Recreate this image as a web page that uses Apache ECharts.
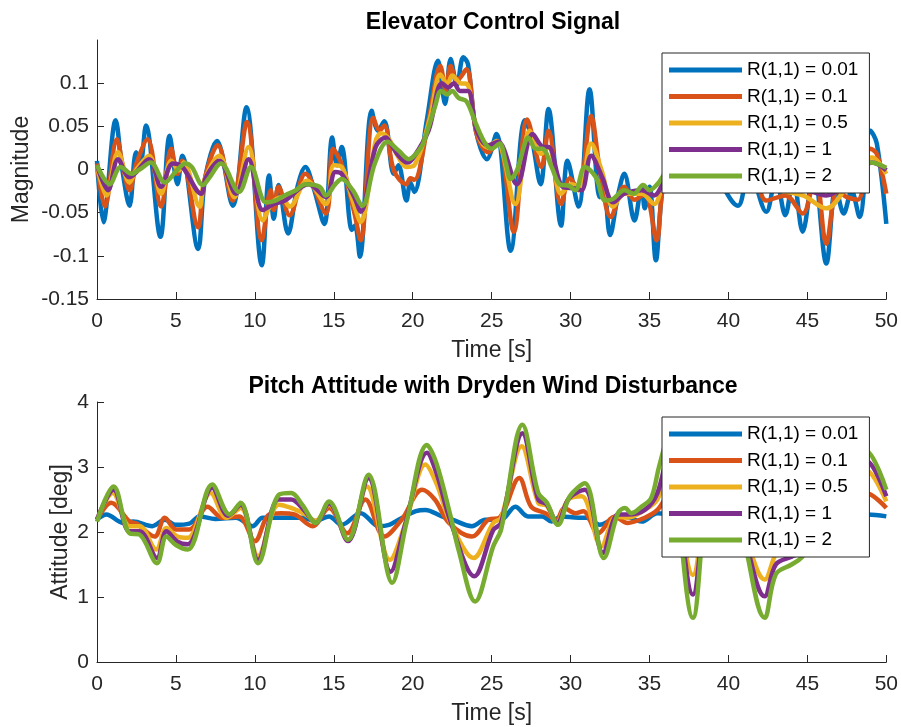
<!DOCTYPE html>
<html>
<head>
<meta charset="utf-8">
<script src="https://cdn.jsdelivr.net/npm/echarts@6/dist/echarts.min.js"></script>
<style>
  html, body { margin: 0; padding: 0; background: #fff; }
  #chart { width: 901px; height: 727px; }
</style>
</head>
<body>
<div id="chart"></div>
<script>
// legend names, shared by both subplots
var seriesNames = ['R(1,1) = 0.01', 'R(1,1) = 0.1', 'R(1,1) = 0.5', 'R(1,1) = 1', 'R(1,1) = 2'];
var seriesColors = ['#0072BD', '#D95319', '#EDB120', '#7E2F8E', '#77AC30'];

var magTicks = [-0.15, -0.1, -0.05, 0, 0.05, 0.1];

// elevator control signal, [time s, magnitude]
var elevR001 = [[0,0.010],[0.4,-0.061],[1.18,0.057],[1.6,0.0],[2.06,-0.042],[2.48,0.020],[2.75,0.008],[3.1,0.051],
  [4.02,-0.078],[4.6,0.039],[5.1,-0.017],[5.4,0.016],[6.4,-0.092],[6.85,-0.010],[7.6,0.033],[8.6,-0.042],
  [9.47,0.072],[10.44,-0.111],[10.9,-0.007],[11.2,-0.057],[11.5,-0.018],[12.1,-0.074],[12.7,-0.020],[13.2,0.003],
  [13.7,-0.020],[14.4,-0.063],[14.9,0.037],[15.2,0.005],[15.5,0.026],[16.15,-0.070],[16.35,-0.065],[16.65,-0.101],
  [17.4,0.068],[17.8,0.045],[18.2,0.056],[18.8,-0.005],[19.1,0.005],[19.6,-0.036],[19.85,-0.015],[20.1,-0.026],
  [20.9,0.058],[21.6,0.126],[22.05,0.076],[22.4,0.128],[22.8,0.098],[23.2,0.130],[23.5,0.122],[24.0,0.045],
  [24.7,0.012],[25.3,0.041],[26.2,-0.094],[27.1,0.057],[27.5,0.040],[28.1,-0.017],[28.6,0.070],[29.4,-0.065],
  [29.8,0.010],[30.5,-0.043],[31.2,0.093],[31.85,-0.032],[32.1,-0.020],[32.5,-0.076],[33.0,-0.030],[33.4,-0.005],
  [34.05,-0.059],[34.5,-0.020],[34.7,-0.045],[35.0,-0.020],[35.4,-0.105],[35.85,-0.020],[36.5,0.010],[37.2,-0.010],
  [38.0,0.020],[39.0,0.000],[40.6,-0.042],[41.3,0.000],[42.4,-0.049],[43.0,-0.010],[43.6,-0.053],[44.1,-0.010],
  [44.7,-0.072],[45.4,0.000],[46.2,-0.109],[46.8,-0.020],[47.3,-0.051],[47.8,-0.025],[48.3,-0.055],[49.0,0.045],
  [49.4,0.030],[50,-0.063]];
var elevR01 = [[0,0.007],[0.5,-0.043],[1.26,0.035],[1.65,0.003],[2.06,-0.024],[2.5,0.007],[3.2,0.035],[4.06,-0.043],
  [4.7,0.024],[5.1,-0.005],[5.4,0.010],[6.4,-0.067],[6.8,-0.013],[7.65,0.028],[8.6,-0.036],[9.5,0.055],
  [10.44,-0.082],[11.0,-0.024],[11.2,-0.047],[11.5,-0.020],[12.2,-0.053],[13.2,-0.005],[14.5,-0.051],[14.95,0.024],
  [15.5,0.006],[16.3,-0.050],[16.7,-0.082],[17.5,0.060],[17.9,0.045],[18.2,0.051],[18.8,-0.001],[19.6,-0.017],
  [19.85,-0.010],[20.1,-0.012],[21.0,0.056],[21.75,0.120],[22.1,0.091],[22.4,0.120],[22.8,0.103],[23.4,0.116],
  [24.05,0.041],[24.8,0.020],[25.4,0.033],[26.4,-0.072],[27.25,0.058],[28.15,0.003],[28.6,0.045],[29.4,-0.040],
  [29.95,-0.010],[30.5,-0.024],[31.3,0.062],[31.85,0.000],[32.55,-0.055],[33.4,-0.020],[34.05,-0.035],[34.7,-0.028],
  [35.45,-0.082],[35.85,-0.020],[36.5,0.008],[37.5,-0.005],[38.5,0.012],[40.6,-0.025],[41.5,0.000],[42.4,-0.036],
  [43.6,-0.030],[44.7,-0.051],[45.5,-0.005],[46.2,-0.086],[46.9,-0.025],[47.5,-0.032],[48.2,-0.035],[49.0,0.024],
  [49.4,0.018],[50,-0.028]];
var elevR05 = [[0,0.005],[0.6,-0.030],[1.33,0.020],[2.06,-0.015],[2.5,0.000],[3.3,0.016],[4.06,-0.028],[4.7,0.010],
  [5.2,-0.001],[5.5,0.008],[6.5,-0.043],[6.8,-0.013],[7.75,0.016],[8.7,-0.032],[9.6,0.026],[10.5,-0.059],
  [11.1,-0.038],[11.7,-0.032],[12.2,-0.043],[13.3,-0.013],[14.5,-0.040],[15.0,0.005],[15.5,0.003],[16.2,-0.036],
  [16.7,-0.061],[17.65,0.033],[18.0,0.042],[18.5,0.035],[19.1,0.014],[19.6,0.003],[20.1,0.005],[21.1,0.060],
  [21.75,0.110],[22.2,0.099],[22.5,0.109],[23.0,0.100],[23.45,0.099],[24.05,0.045],[24.7,0.026],[25.3,0.033],
  [26.5,-0.040],[27.4,0.045],[28.15,0.018],[28.6,0.026],[29.4,-0.028],[30.05,-0.017],[30.6,-0.020],[31.3,0.030],
  [31.95,0.000],[32.7,-0.043],[33.4,-0.028],[34.5,-0.028],[35.3,-0.040],[35.85,-0.017],[36.5,0.006],[38.0,0.005],
  [40.6,-0.015],[42.4,-0.022],[44.7,-0.030],[46.2,-0.045],[47.5,-0.020],[49.1,0.014],[50,-0.005]];
var elevR1 = [[0,0.005],[0.7,-0.024],[1.33,0.012],[2.06,-0.009],[3.3,0.012],[4.06,-0.020],[4.8,0.007],[5.4,0.003],
  [6.6,-0.028],[6.9,-0.009],[7.75,0.010],[8.8,-0.028],[9.6,0.012],[10.5,-0.047],[11.2,-0.040],[11.9,-0.036],
  [13.4,-0.017],[14.5,-0.032],[15.1,-0.003],[15.5,-0.005],[16.3,-0.032],[16.7,-0.049],[17.65,0.026],[18.3,0.037],
  [18.6,0.030],[19.1,0.016],[19.65,0.008],[20.05,0.014],[21.0,0.045],[21.85,0.100],[22.25,0.095],[22.6,0.100],
  [23.0,0.091],[23.5,0.091],[24.05,0.045],[24.8,0.028],[25.4,0.032],[26.6,-0.017],[27.6,0.041],[28.3,0.026],
  [28.6,0.026],[29.5,-0.020],[30.3,-0.022],[30.7,-0.024],[31.3,0.016],[32.0,-0.009],[32.7,-0.038],[33.4,-0.028],
  [34.5,-0.024],[35.3,-0.030],[35.8,-0.018],[36.5,0.005],[38.0,0.003],[40.6,-0.012],[42.4,-0.016],[44.7,-0.022],
  [46.2,-0.030],[47.5,-0.015],[49.1,0.008],[50,-0.001]];
var elevR2 = [[0,0.005],[0.8,-0.017],[1.5,0.003],[2.2,-0.005],[2.7,0.000],[3.4,0.008],[4.3,-0.015],[5.1,0.000],
  [5.6,0.007],[6.0,0.003],[6.7,-0.018],[7.1,-0.010],[7.85,0.007],[9.0,-0.026],[9.75,0.003],[10.7,-0.038],
  [11.3,-0.036],[11.9,-0.030],[12.6,-0.024],[13.2,-0.017],[14.1,-0.020],[14.5,-0.030],[15.1,-0.017],[15.5,-0.011],
  [16.2,-0.024],[16.8,-0.042],[17.6,0.007],[18.4,0.032],[19.1,0.022],[19.75,0.012],[20.1,0.016],[20.6,0.028],
  [21.0,0.049],[21.4,0.072],[21.8,0.091],[22.2,0.087],[22.5,0.091],[22.9,0.083],[23.4,0.079],[24.0,0.053],
  [24.6,0.030],[25.0,0.024],[25.5,0.030],[25.9,0.007],[26.2,-0.011],[26.6,-0.001],[27.1,0.030],[27.3,0.037],
  [27.8,0.024],[28.2,0.024],[28.8,0.003],[29.3,-0.017],[29.9,-0.019],[30.3,-0.024],[30.9,0.003],[31.6,-0.009],
  [32.2,-0.036],[32.7,-0.034],[33.4,-0.024],[34.0,-0.028],[34.6,-0.018],[35.0,-0.024],[35.5,-0.017],[36.5,0.004],
  [38.0,0.002],[40.6,-0.010],[42.4,-0.012],[44.7,-0.016],[46.2,-0.022],[47.5,-0.012],[49.0,0.008],[50,0.002]];

// pitch attitude, [time s, deg]
var pitchR001 = [[0,2.19],[0.6,2.27],[1.65,2.14],[2.3,2.16],[3.5,2.09],[4.3,2.19],[5.0,2.11],[5.85,2.13],[6.5,2.24],
  [7.5,2.20],[8.8,2.22],[9.85,2.09],[10.5,2.22],[12.0,2.22],[13.0,2.22],[13.85,2.17],[14.7,2.24],[15.5,2.11],
  [16.7,2.29],[17.85,2.09],[18.5,2.11],[19.1,2.19],[20.2,2.32],[20.8,2.34],[21.85,2.24],[22.5,2.19],[23.75,2.09],
  [24.6,2.19],[25.6,2.19],[26.5,2.39],[27.3,2.24],[28.2,2.24],[28.8,2.16],[29.4,2.24],[30.5,2.22],[31.0,2.22],
  [31.85,2.11],[32.6,2.19],[33.4,2.24],[34.5,2.16],[35.5,2.29],[37.0,2.25],[38.0,2.20],[40.0,2.25],[42.0,2.20],
  [44.0,2.25],[46.0,2.20],[48.8,2.27],[50,2.24]];
var pitchR01 = [[0,2.19],[0.9,2.45],[2.06,2.16],[2.5,2.13],[3.65,1.93],[4.3,2.22],[5.0,2.04],[5.85,2.04],[7.0,2.39],
  [7.95,2.22],[9.0,2.24],[10.0,1.86],[10.9,2.27],[11.65,2.29],[12.5,2.27],[13.65,2.09],[14.7,2.37],[15.85,1.98],
  [17.0,2.50],[18.2,1.93],[19.3,2.19],[20.6,2.65],[21.4,2.50],[22.3,2.14],[23.75,1.93],[24.8,2.19],[25.5,2.22],
  [26.75,2.83],[27.5,2.39],[28.4,2.29],[29.1,2.19],[29.6,2.37],[30.3,2.29],[30.8,2.32],[31.75,1.98],[32.8,2.24],
  [33.6,2.14],[34.7,2.22],[35.5,2.34],[36.3,2.60],[37.75,1.75],[39.0,2.40],[40.5,2.20],[42.3,1.78],[44.0,2.00],
  [45.5,2.20],[47.0,2.30],[48.7,2.60],[50,2.37]];
var pitchR05 = [[0,2.19],[1.0,2.60],[2.06,2.09],[2.7,2.09],[3.75,1.73],[4.4,2.06],[5.1,1.93],[5.75,1.91],[7.2,2.60],
  [8.2,2.22],[9.1,2.37],[10.2,1.63],[11.5,2.42],[12.3,2.37],[13.2,2.27],[13.85,2.17],[14.7,2.42],[15.9,1.88],
  [17.1,2.70],[18.55,1.57],[19.55,2.14],[20.8,3.04],[21.5,2.75],[22.4,2.14],[23.85,1.60],[25.1,2.14],[25.6,2.22],
  [26.9,3.32],[27.95,2.45],[28.5,2.40],[29.1,2.14],[29.85,2.50],[30.7,2.55],[31.95,1.78],[32.9,2.24],[33.6,2.22],
  [34.7,2.34],[35.5,2.50],[36.2,3.00],[37.75,1.34],[39.0,2.60],[40.5,2.30],[42.3,1.27],[43.2,1.75],[44.6,1.90],
  [46.0,2.50],[47.0,2.40],[48.7,2.95],[50,2.47]];
var pitchR1 = [[0,2.19],[1.05,2.65],[2.06,2.01],[2.7,2.01],[3.8,1.60],[4.4,2.01],[5.1,1.85],[5.75,1.81],[7.3,2.68],
  [8.3,2.25],[9.1,2.42],[10.2,1.57],[11.5,2.50],[12.3,2.50],[13.1,2.34],[13.85,2.14],[14.7,2.44],[15.9,1.86],
  [17.2,2.83],[18.6,1.39],[19.55,2.14],[20.9,3.22],[21.5,2.91],[22.4,2.16],[23.9,1.32],[25.1,2.03],[25.6,2.14],
  [26.95,3.52],[27.95,2.50],[28.5,2.42],[29.15,2.14],[29.9,2.52],[30.9,2.65],[32.05,1.68],[33.0,2.27],[33.6,2.27],
  [34.7,2.34],[35.5,2.60],[36.2,3.20],[37.75,1.04],[39.0,2.70],[40.5,2.30],[42.3,1.01],[43.0,1.50],[44.0,1.62],
  [44.8,1.72],[46.0,2.60],[47.0,2.50],[48.7,3.10],[50,2.55]];
var pitchR2 = [[0,2.16],[1.05,2.70],[2.06,1.98],[2.7,1.96],[3.8,1.52],[4.4,1.93],[5.0,1.80],[5.75,1.73],[7.3,2.73],
  [8.4,2.27],[9.1,2.45],[10.2,1.52],[11.5,2.57],[12.3,2.60],[13.0,2.42],[13.85,2.14],[14.7,2.47],[15.9,1.88],
  [17.2,2.88],[18.7,1.22],[19.6,2.14],[20.9,3.34],[21.5,3.06],[22.4,2.24],[22.9,1.73],[23.95,0.93],[25.1,1.78],
  [25.6,2.04],[26.95,3.65],[27.95,2.60],[28.5,2.45],[29.2,2.11],[29.95,2.55],[30.9,2.75],[32.1,1.60],[33.0,2.29],
  [33.45,2.37],[33.85,2.29],[34.5,2.39],[35.1,2.52],[35.6,3.00],[36.1,3.40],[37.75,0.68],[39.0,2.75],[40.5,2.30],
  [42.3,0.68],[43.0,1.35],[44.0,1.50],[44.6,1.60],[45.3,1.85],[46.0,2.70],[47.0,2.55],[48.7,3.25],[50,2.65]];

var elevData = [elevR001, elevR01, elevR05, elevR1, elevR2];
var pitchData = [pitchR001, pitchR01, pitchR05, pitchR1, pitchR2];

var FONT = '"Liberation Sans", Arial, Helvetica, sans-serif';
var AX = '#262626';

var chartDom = document.getElementById('chart');
var myChart = echarts.init(chartDom, null, { renderer: 'canvas' });

function xAxisFor(gridIndex) {
  return {
    type: 'value', gridIndex: gridIndex, min: 0, max: 50, interval: 5,
    name: 'Time [s]', nameLocation: 'middle', nameGap: 40,
    nameTextStyle: { fontFamily: FONT, fontSize: 23, color: AX },
    axisLine: { onZero: false, lineStyle: { color: AX, width: 1 } },
    axisTick: { inside: true, length: 7, lineStyle: { color: AX } },
    axisLabel: { margin: 12, fontFamily: FONT, fontSize: 21, color: AX },
    splitLine: { show: false }
  };
}

function lineSeries(i, data, axisIndex) {
  return {
    name: seriesNames[i], type: 'line', data: data,
    xAxisIndex: axisIndex, yAxisIndex: axisIndex,
    smooth: 0.35, showSymbol: false, symbol: 'none',
    color: seriesColors[i],
    lineStyle: { width: 4.5, color: seriesColors[i] },
    animation: false, z: 2 + i * 0.1
  };
}

function legendAt(top) {
  return {
    data: seriesNames, orient: 'vertical', left: 662, top: top,
    icon: 'rect', itemWidth: 73, itemHeight: 5, itemGap: 6.5,
    padding: [7, 11, 7, 7],
    borderColor: AX, borderWidth: 1, backgroundColor: '#fff',
    itemStyle: { borderWidth: 0 },
    textStyle: { fontFamily: FONT, fontSize: 19, lineHeight: 20, color: '#000' },
    selectedMode: false, z: 10
  };
}

var series = [];
elevData.forEach(function (d, i) { series.push(lineSeries(i, d, 0)); });
pitchData.forEach(function (d, i) { series.push(lineSeries(i, d, 1)); });

var option = {
  backgroundColor: '#fff',
  animation: false,
  title: [
    { text: 'Elevator Control Signal', left: 493, top: 11, textAlign: 'center', padding: 0,
      textStyle: { fontFamily: FONT, fontSize: 23, fontWeight: 'bold', color: '#000' } },
    { text: 'Pitch Attitude with Dryden Wind Disturbance', left: 493, top: 375, textAlign: 'center', padding: 0,
      textStyle: { fontFamily: FONT, fontSize: 23, fontWeight: 'bold', color: '#000' } }
  ],
  legend: [legendAt(53), legendAt(417)],
  grid: [
    { left: 97, right: 11, top: 40, height: 259 },
    { left: 97, right: 11, top: 402, height: 260 }
  ],
  xAxis: [xAxisFor(0), xAxisFor(1)],
  yAxis: [
    {
      type: 'value', gridIndex: 0, min: -0.15, max: 0.15, interval: 0.05,
      name: 'Magnitude', nameLocation: 'middle', nameGap: 64, nameRotate: 90, nameMoveOverlap: false,
      nameTextStyle: { fontFamily: FONT, fontSize: 23, color: AX },
      axisLine: { show: true, lineStyle: { color: AX, width: 1 } },
      axisTick: { show: true, inside: true, length: 7, lineStyle: { color: AX }, customValues: magTicks },
      axisLabel: { margin: 8, fontFamily: FONT, fontSize: 21, color: AX, customValues: magTicks },
      splitLine: { show: false }
    },
    {
      type: 'value', gridIndex: 1, min: 0, max: 4, interval: 1,
      name: 'Attitude [deg]', nameLocation: 'middle', nameGap: 25, nameRotate: 90, nameMoveOverlap: false,
      nameTextStyle: { fontFamily: FONT, fontSize: 23, color: AX },
      axisLine: { show: true, lineStyle: { color: AX, width: 1 } },
      axisTick: { show: true, inside: true, length: 7, lineStyle: { color: AX } },
      axisLabel: { margin: 8, fontFamily: FONT, fontSize: 21, color: AX },
      splitLine: { show: false }
    }
  ],
  series: series
};

option && myChart.setOption(option);
</script>
</body>
</html>
